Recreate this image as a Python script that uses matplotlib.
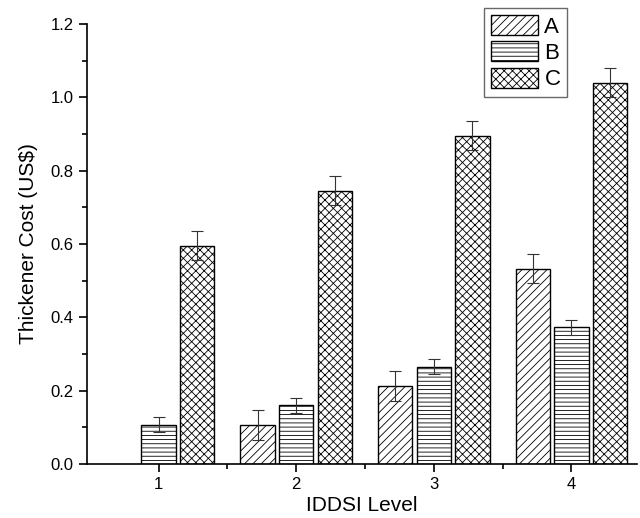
import matplotlib.pyplot as plt
import numpy as np
from matplotlib.ticker import MultipleLocator, FixedLocator

plt.rcParams['font.family'] = ['Liberation Sans', 'DejaVu Sans']
plt.rcParams['hatch.linewidth'] = 0.6

levels = [1, 2, 3, 4]
series = ['A', 'B', 'C']
cost_a = [np.nan, 0.107, 0.213, 0.533]
cost_b = [0.108, 0.160, 0.266, 0.373]
cost_c = [0.595, 0.745, 0.895, 1.040]
err_a = [np.nan, 0.040, 0.040, 0.040]
err_b = [0.020, 0.020, 0.020, 0.020]
err_c = [0.040, 0.040, 0.040, 0.040]

fig = plt.figure(figsize=(6.4, 5.18), dpi=100)
ax = fig.add_axes([0.136, 0.104, 0.86, 0.850])

x = np.array(levels, dtype=float)
width = 0.25
step = 0.28
hatches = ['////', '----', 'xxxx']
values = [cost_a, cost_b, cost_c]
errors = [err_a, err_b, err_c]

for i, (name, vals, errs, h) in enumerate(zip(series, values, errors, hatches)):
    pos = x + (i - 1) * step
    ax.bar(pos, vals, width, color='white', edgecolor='black', linewidth=1.0,
           hatch=h, label=name)
    ax.errorbar(pos, vals, yerr=errs, fmt='none', ecolor='#333333',
                elinewidth=0.8, capsize=4, capthick=0.8)

ax.set_xlim(0.48, 4.48)
ax.set_ylim(0, 1.2)
ax.set_xticks(levels)
ax.xaxis.set_minor_locator(FixedLocator([1.5, 2.5, 3.5]))
ax.yaxis.set_major_locator(MultipleLocator(0.2))
ax.yaxis.set_minor_locator(MultipleLocator(0.1))
ax.yaxis.set_major_formatter(plt.FormatStrFormatter('%.1f'))

for side in ['top', 'right']:
    ax.spines[side].set_visible(False)
for side in ['left', 'bottom']:
    ax.spines[side].set_linewidth(1.2)

ax.tick_params(which='major', direction='out', length=6, width=1.2, labelsize=12)
ax.tick_params(which='minor', direction='out', length=3.5, width=1.2)

ax.set_xlabel('IDDSI Level', fontsize=15, labelpad=3)
ax.set_ylabel('Thickener Cost (US$)', fontsize=15, labelpad=9)

leg = ax.legend(loc='upper left', bbox_to_anchor=(0.722, 1.035), fontsize=16,
                fancybox=False, edgecolor='#444444', handlelength=2.1,
                handleheight=1.0, handletextpad=0.3, labelspacing=0.17,
                borderpad=0.3, borderaxespad=0)
leg.get_frame().set_linewidth(1.0)

fig.savefig('out.png', dpi=100)
